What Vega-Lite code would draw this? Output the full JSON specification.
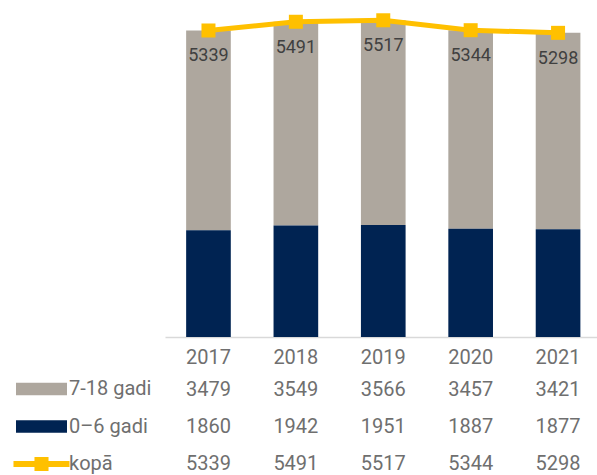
{
  "$schema": "https://vega.github.io/schema/vega-lite/v6.json",
  "padding": 0,
  "background": "white",
  "spacing": 4,
  "config": {
    "view": {"stroke": null},
    "font": "Roboto"
  },
  "datasets": {
    "d": [
      {"year": "2017", "series": "7-18 gadi", "value": 3479},
      {"year": "2017", "series": "0–6 gadi", "value": 1860},
      {"year": "2017", "series": "kopā", "value": 5339},
      {"year": "2018", "series": "7-18 gadi", "value": 3549},
      {"year": "2018", "series": "0–6 gadi", "value": 1942},
      {"year": "2018", "series": "kopā", "value": 5491},
      {"year": "2019", "series": "7-18 gadi", "value": 3566},
      {"year": "2019", "series": "0–6 gadi", "value": 1951},
      {"year": "2019", "series": "kopā", "value": 5517},
      {"year": "2020", "series": "7-18 gadi", "value": 3457},
      {"year": "2020", "series": "0–6 gadi", "value": 1887},
      {"year": "2020", "series": "kopā", "value": 5344},
      {"year": "2021", "series": "7-18 gadi", "value": 3421},
      {"year": "2021", "series": "0–6 gadi", "value": 1877},
      {"year": "2021", "series": "kopā", "value": 5298}
    ]
  },
  "resolve": {
    "scale": {"x": "shared", "color": "independent", "shape": "independent"},
    "legend": {"color": "independent", "shape": "independent"}
  },
  "vconcat": [
    {
      "width": 432,
      "height": 337,
      "data": {"name": "d"},
      "encoding": {
        "x": {
          "field": "year",
          "type": "ordinal",
          "scale": {"paddingInner": 0.489, "paddingOuter": 0.216, "align": 0.56},
          "axis": {
            "title": null,
            "ticks": false,
            "grid": false,
            "domainColor": "#D9D9D9",
            "domainWidth": 1.5,
            "labelAngle": 0,
            "labelFont": "Roboto",
            "labelFontSize": 20,
            "labelColor": "#6f6f6f",
            "labelPadding": 10
          }
        }
      },
      "layer": [
        {
          "transform": [{"filter": "datum.series !== 'kopā'"}],
          "mark": {"type": "bar"},
          "encoding": {
            "y": {
              "field": "value",
              "type": "quantitative",
              "stack": "zero",
              "scale": {"domain": [0, 5870], "nice": false},
              "axis": {"title": null, "labels": false, "ticks": false, "domain": false, "grid": false, "minExtent": 165, "maxExtent": 165}
            },
            "color": {
              "field": "series",
              "type": "nominal",
              "scale": {"domain": ["7-18 gadi", "0–6 gadi", "kopā"], "range": ["#AEA79E", "#002352", "#FFC000"]},
              "legend": null
            },
            "order": {"field": "series", "sort": "ascending"}
          }
        },
        {
          "transform": [{"filter": "datum.series === 'kopā'"}],
          "mark": {"type": "line", "color": "#FFC000", "strokeWidth": 5},
          "encoding": {"y": {"field": "value", "type": "quantitative", "stack": null}}
        },
        {
          "transform": [{"filter": "datum.series === 'kopā'"}],
          "mark": {"type": "point", "shape": "square", "filled": true, "opacity": 1, "size": 196, "color": "#FFC000"},
          "encoding": {"y": {"field": "value", "type": "quantitative", "stack": null}}
        },
        {
          "transform": [{"filter": "datum.series === 'kopā'"}],
          "mark": {"type": "text", "font": "Roboto", "fontSize": 18, "color": "#404040", "baseline": "middle", "dy": 26},
          "encoding": {
            "y": {"field": "value", "type": "quantitative", "stack": null},
            "text": {"field": "value", "type": "quantitative", "format": "d"}
          }
        }
      ]
    },
    {
      "width": 432,
      "height": 103,
      "data": {"name": "d"},
      "encoding": {
        "x": {
          "field": "year",
          "type": "ordinal",
          "scale": {"paddingInner": 0.489, "paddingOuter": 0.216, "align": 0.56},
          "axis": null
        },
        "y": {
          "field": "series",
          "type": "nominal",
          "scale": {"type": "point", "domain": ["7-18 gadi", "0–6 gadi", "kopā"], "padding": 0.38, "align": 0.659},
          "axis": {"title": null, "labels": false, "ticks": false, "domain": false, "grid": false, "minExtent": 165, "maxExtent": 165}
        }
      },
      "layer": [
        {
          "mark": {"type": "point", "filled": true, "opacity": 0},
          "encoding": {
            "color": {
              "field": "series",
              "type": "nominal",
              "scale": {"domain": ["7-18 gadi", "0–6 gadi", "kopā"], "range": ["#AEA79E", "#002352", "#FFC000"]},
              "legend": {
                "title": null,
                "orient": "none",
                "legendX": -133.5,
                "legendY": 8,
                "symbolSize": 144,
                "symbolStrokeWidth": 0,
                "symbolOpacity": 1,
                "labelFont": "Roboto",
                "labelFontSize": 20,
                "labelColor": "#6f6f6f",
                "labelOffset": 17.5,
                "rowPadding": 17.5,
                "padding": 0,
                "labelLimit": 200
              }
            },
            "shape": {
              "field": "series",
              "type": "nominal",
              "scale": {
                "domain": ["7-18 gadi", "0–6 gadi", "kopā"],
                "range": [
                  "M-4.25,-1.06H4.25V1.06H-4.25Z",
                  "M-4.25,-1.06H4.25V1.06H-4.25Z",
                  "M-4.67,-0.5H-1.17V-1.17H1.17V-0.5H4.67V0.5H1.17V1.17H-1.17V0.5H-4.67Z"
                ]
              },
              "legend": {
                "title": null,
                "orient": "none",
                "legendX": -133.5,
                "legendY": 8,
                "symbolSize": 144,
                "symbolStrokeWidth": 0,
                "symbolOpacity": 1,
                "labelFont": "Roboto",
                "labelFontSize": 20,
                "labelColor": "#6f6f6f",
                "labelOffset": 17.5,
                "rowPadding": 17.5,
                "padding": 0,
                "labelLimit": 200
              }
            }
          }
        },
        {
          "mark": {"type": "text", "font": "Roboto", "fontSize": 20, "color": "#6f6f6f", "baseline": "middle"},
          "encoding": {"text": {"field": "value", "type": "quantitative", "format": "d"}}
        }
      ]
    }
  ]
}
